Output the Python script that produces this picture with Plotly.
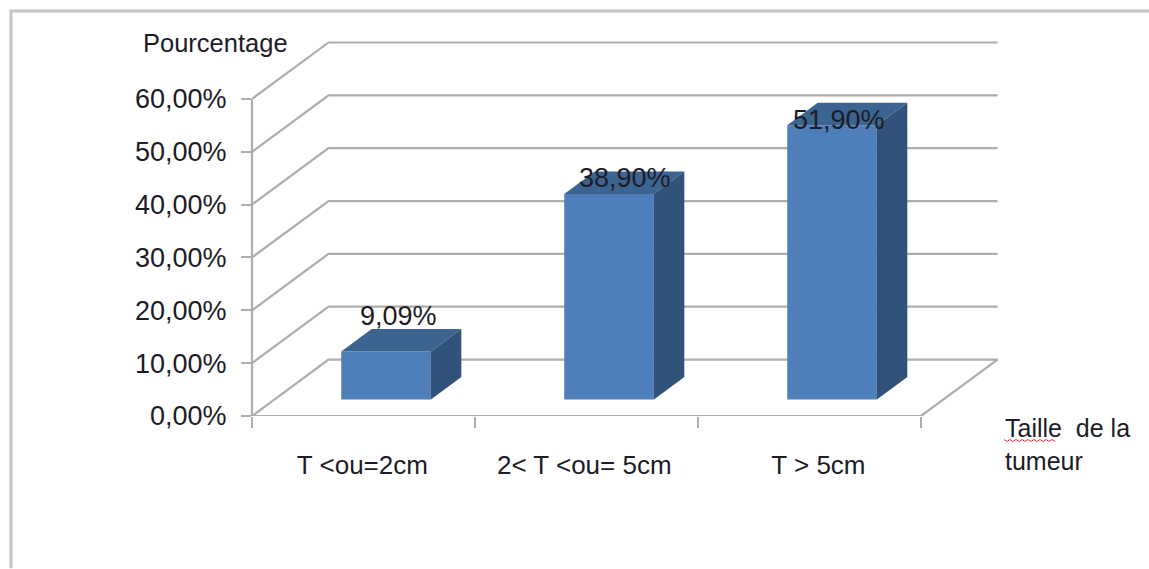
import plotly.graph_objects as go

categories = ["T <ou=2cm", "2< T <ou= 5cm", "T > 5cm"]
percentages = [9.09, 38.90, 51.90]
y_ticks = [0, 10, 20, 30, 40, 50, 60]
y_title = "Pourcentage"
x_title = "Taille  de la<br>tumeur"

# Pixel frame of the plotting area; it reaches past the front plane to hold the back wall
LEFT, BOTTOM = 252, 416.5
RIGHT, TOP = 1010, 30
WIDTH, HEIGHT = 1149, 569

# Pixels per data unit on the front plane
UNIT_X = 669 / 3
UNIT_Y = 317.5 / 60
X_MAX = (RIGHT - LEFT) / UNIT_X
Y_MAX = (BOTTOM - TOP) / UNIT_Y

# Oblique projection: how far the back wall sits from the front plane, in data units
DEPTH_X = 76.5 / UNIT_X
DEPTH_Y = 56.5 / UNIT_Y

# Bar footprint inside each category slot
BAR_START = 0.30
BAR_WIDTH = 0.402
BAR_FRONT = 0.292
BAR_BACK = 0.69

# Hand-placed label nudges, in pixels
label_dx = [12, 16, 7]
label_dy = [35, 16, 5]
category_pos = [0.495, 1.49, 2.54]

GRID = "#adadad"
TEXT = "#1c1c28"
FACE_FRONT = "#4f7fba"
FACE_TOP = "#3c6491"
FACE_SIDE = "#31527a"
FONT = "Liberation Sans"


def project(x, y, depth):
    return x + depth * DEPTH_X, y + depth * DEPTH_Y


def polygon(corners, color):
    pts = [project(*c) for c in corners] + [project(*corners[0])]
    return go.Scatter(x=[p[0] for p in pts], y=[p[1] for p in pts], mode="lines",
                      fill="toself", fillcolor=color, line=dict(width=0, color=color),
                      cliponaxis=False, hoverinfo="skip", showlegend=False)


def wire(corners, width=2.2):
    pts = [project(*c) for c in corners]
    return go.Scatter(x=[p[0] for p in pts], y=[p[1] for p in pts], mode="lines",
                      line=dict(width=width, color=GRID),
                      cliponaxis=False, hoverinfo="skip", showlegend=False)


def paper_x(px):
    return (px - LEFT) / (RIGHT - LEFT)


def paper_y(py):
    return (BOTTOM - py) / (BOTTOM - TOP)


def comma(v):
    return f"{v:.2f}".replace(".", ",") + "%"


fig = go.Figure()

# Wall gridlines: one polyline per tick, running up the side wall then along the back
for t in y_ticks[1:]:
    fig.add_trace(wire([(0, t, 0), (0, t, 1), (3, t, 1)]))

# Floor outline
fig.add_trace(wire([(3, 0, 0), (0, 0, 0), (0, 0, 1), (3, 0, 1), (3, 0, 0)]))

annotations = []
for i, v in enumerate(percentages):
    x0 = i + BAR_START
    x1 = x0 + BAR_WIDTH
    fig.add_trace(polygon([(x0, 0, BAR_FRONT), (x1, 0, BAR_FRONT), (x1, v, BAR_FRONT), (x0, v, BAR_FRONT)], FACE_FRONT))
    fig.add_trace(polygon([(x0, v, BAR_FRONT), (x1, v, BAR_FRONT), (x1, v, BAR_BACK), (x0, v, BAR_BACK)], FACE_TOP))
    fig.add_trace(polygon([(x1, 0, BAR_FRONT), (x1, 0, BAR_BACK), (x1, v, BAR_BACK), (x1, v, BAR_FRONT)], FACE_SIDE))
    cx, cy = project((x0 + x1) / 2, v, BAR_FRONT)
    annotations.append(dict(x=cx, y=cy, xref="x", yref="y", text=comma(v), showarrow=False,
                            xanchor="center", yanchor="middle",
                            xshift=label_dx[i], yshift=label_dy[i],
                            font=dict(family=FONT, size=27, color=TEXT)))

annotations.append(dict(x=paper_x(215), y=paper_y(43), xref="paper", yref="paper", text=y_title,
                        xanchor="center", yanchor="middle", showarrow=False,
                        font=dict(family=FONT, size=25.5, color=TEXT)))
annotations.append(dict(x=paper_x(1003), y=paper_y(445), xref="paper", yref="paper", text=x_title,
                        xanchor="left", yanchor="middle", align="left", showarrow=False,
                        font=dict(family=FONT, size=25, color=TEXT)))

# Outer frame (top and left edges) and the spell-check squiggle under the axis caption
frame = f"M {paper_x(11)} {paper_y(569)} L {paper_x(11)} {paper_y(11)} L {paper_x(1149)} {paper_y(11)}"
squiggle_x = list(range(1004, 1058, 3))
squiggle = "M " + " L ".join(f"{paper_x(px)} {paper_y(440 + (n % 2) * 2)}" for n, px in enumerate(squiggle_x))
shapes = [
    dict(type="path", xref="paper", yref="paper", path=frame, line=dict(color="#c4c4c4", width=3)),
    dict(type="path", xref="paper", yref="paper", path=squiggle, line=dict(color="#e8323c", width=1)),
    # Front vertical axis, from the floor to the top tick
    dict(type="line", xref="paper", yref="paper", x0=0, x1=0, y0=0, y1=y_ticks[-1] / Y_MAX,
         line=dict(color=GRID, width=2.2)),
]

fig.update_layout(
    width=WIDTH, height=HEIGHT,
    margin=dict(l=LEFT, r=WIDTH - RIGHT, t=TOP, b=HEIGHT - BOTTOM, pad=0, autoexpand=False),
    paper_bgcolor="white", plot_bgcolor="white", showlegend=False,
    annotations=annotations, shapes=shapes,
    font=dict(family=FONT, size=25, color=TEXT),
    xaxis=dict(range=[0, X_MAX], tickmode="array", tickvals=category_pos, ticktext=categories,
               ticks="", showgrid=False, zeroline=False, showline=False,
               ticklabelstandoff=31, tickangle=0, tickfont=dict(size=26),
               minor=dict(tickmode="array", tickvals=[0, 1, 2, 3], ticks="outside", ticklen=11,
                          tickwidth=2.2, tickcolor=GRID, showgrid=False)),
    yaxis=dict(range=[0, Y_MAX], tickmode="array", tickvals=y_ticks, ticktext=[comma(t) for t in y_ticks],
               ticks="outside", ticklen=10, tickwidth=2.2, tickcolor=GRID, showgrid=False, zeroline=False,
               showline=False, ticklabelstandoff=9, tickfont=dict(size=27)),
)

fig.write_html("out.html", config=dict(displayModeBar=False))
